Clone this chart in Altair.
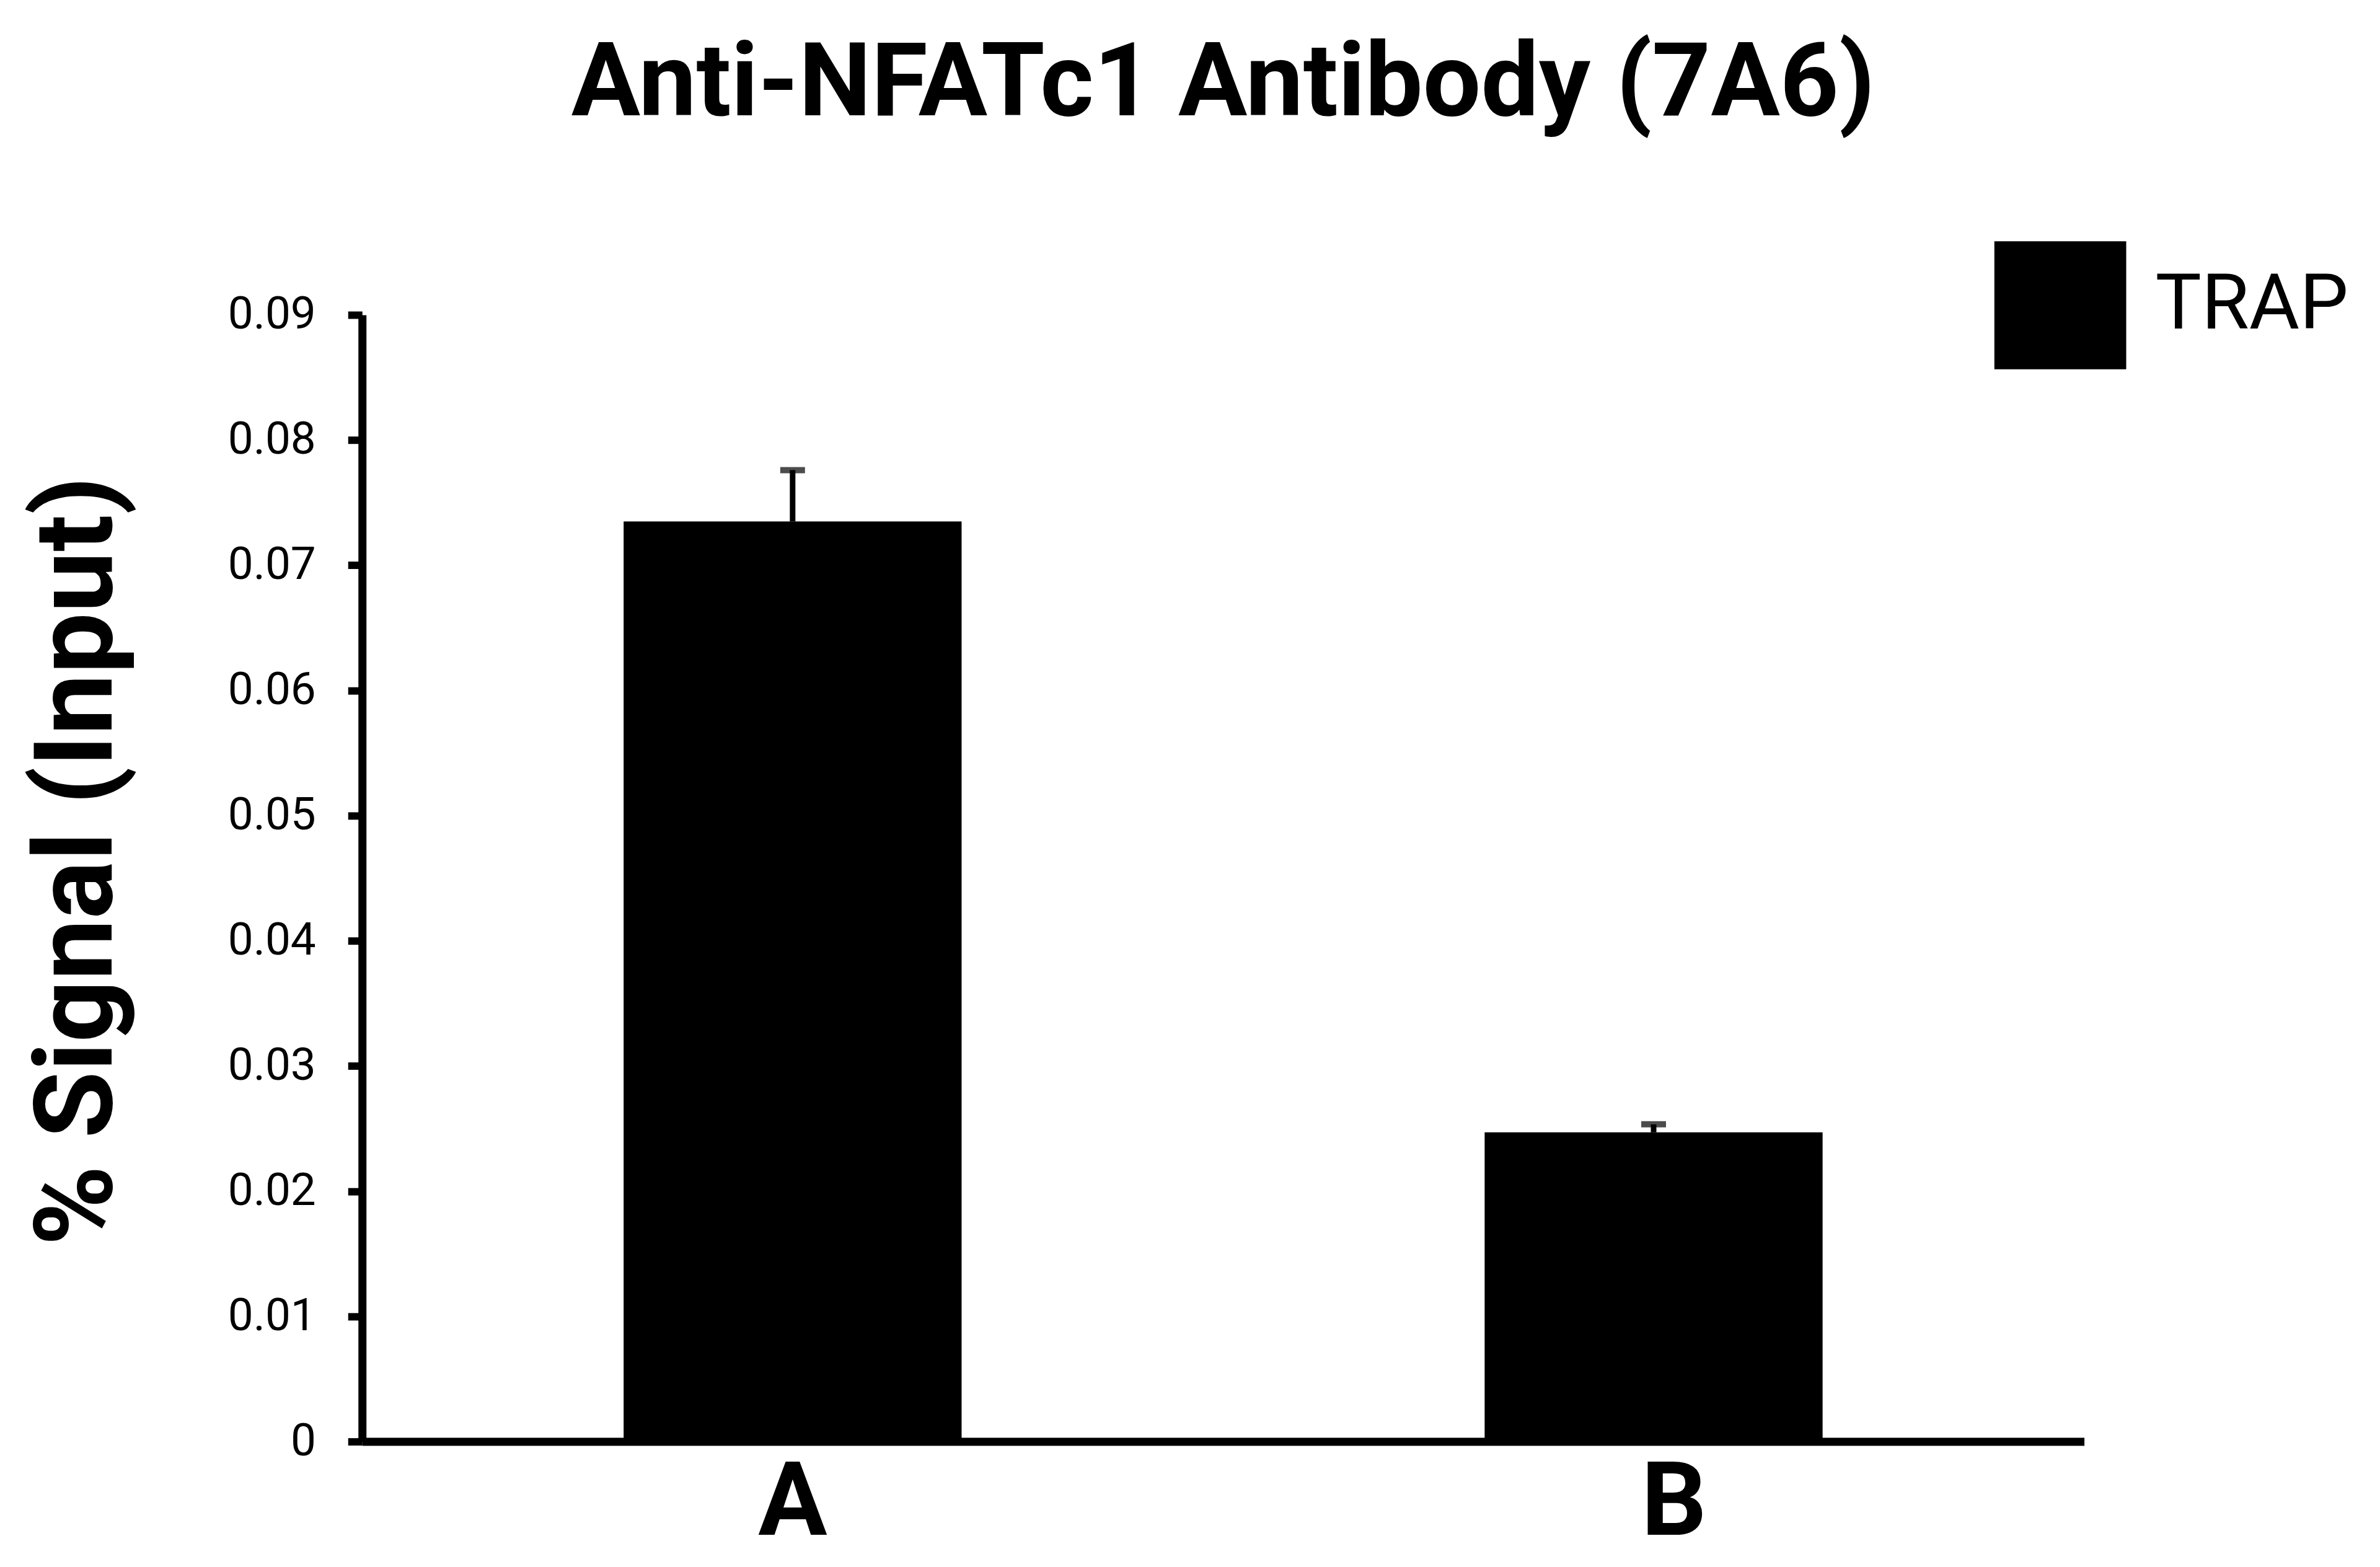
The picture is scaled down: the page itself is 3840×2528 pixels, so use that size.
import altair as alt
import pandas as pd

# Data
categories = ["A", "B"]
signal = [0.0735, 0.0247]
error_plus = [0.0041, 0.00064]
series = ["TRAP", "TRAP"]
y_ticks = [0, 0.01, 0.02, 0.03, 0.04, 0.05, 0.06, 0.07, 0.08, 0.09]

df = pd.DataFrame({
    "category": categories,
    "signal": signal,
    "err": error_plus,
    "series": series,
})
df["upper"] = df["signal"] + df["err"]

FONT = "Roboto"

x_enc = alt.X(
    "category:N",
    scale=alt.Scale(domain=categories, paddingInner=0, paddingOuter=0),
    axis=alt.Axis(
        title=None, labelAngle=0, labelFont=FONT, labelFontWeight="bold",
        labelFontSize=166, labelColor="black", labelBaseline="alphabetic",
        labelPadding=150, ticks=False, domainColor="black", domainWidth=13,
        labelOffset=alt.condition("datum.value == 'B'", alt.value(33), alt.value(0)),
    ),
)

y_scale = alt.Scale(domain=[0, 0.09], nice=False)

bars = alt.Chart(df).mark_bar(width=546).encode(
    x=x_enc,
    y=alt.Y(
        "signal:Q", scale=y_scale,
        axis=alt.Axis(
            values=y_ticks, format=".2~f", title="% Signal (Input)",
            labelFont=FONT, labelFontSize=73, labelColor="black", labelPadding=52,
            tickSize=23, tickWidth=12, tickColor="black",
            domainColor="black", domainWidth=13,
            titleFont=FONT, titleFontWeight="bold", titleFontSize=176,
            titleColor="black", titleAngle=270, titleX=-405, titleY=882,
            titleAlign="center", titleBaseline="alphabetic",
        ),
    ),
    color=alt.Color(
        "series:N",
        scale=alt.Scale(domain=["TRAP"], range=["black"]),
        legend=alt.Legend(
            title=None, orient="none", legendX=2637, legendY=-122,
            symbolType="M-1,-0.97H1V0.97H-1Z", symbolSize=45369,
            symbolStrokeWidth=0, labelFont=FONT, labelFontSize=125,
            labelColor="black", labelOffset=47, labelLimit=0,
        ),
    ),
)

rules = alt.Chart(df).mark_rule(color="black", strokeWidth=9).encode(
    x="category:N",
    y=alt.Y("signal:Q", scale=y_scale),
    y2="upper:Q",
)

caps = alt.Chart(df).mark_tick(color="black", size=40, thickness=10).encode(
    x="category:N",
    y=alt.Y("upper:Q", scale=y_scale),
)

chart = alt.layer(bars, rules, caps).properties(
    width=2782,
    height=1820,
    title=alt.TitleParams(
        "Anti-NFATc1 Antibody (7A6)", font=FONT, fontSize=166,
        fontWeight="bold", color="black", anchor="middle", offset=165,
    ),
    padding={"left": 577, "top": 499, "right": 470, "bottom": 190},
    autosize=alt.AutoSizeParams(type="none"),
).configure_view(stroke=None).configure_axis(grid=False)

chart.save("out.html", embed_options={"renderer": "svg", "actions": False})
